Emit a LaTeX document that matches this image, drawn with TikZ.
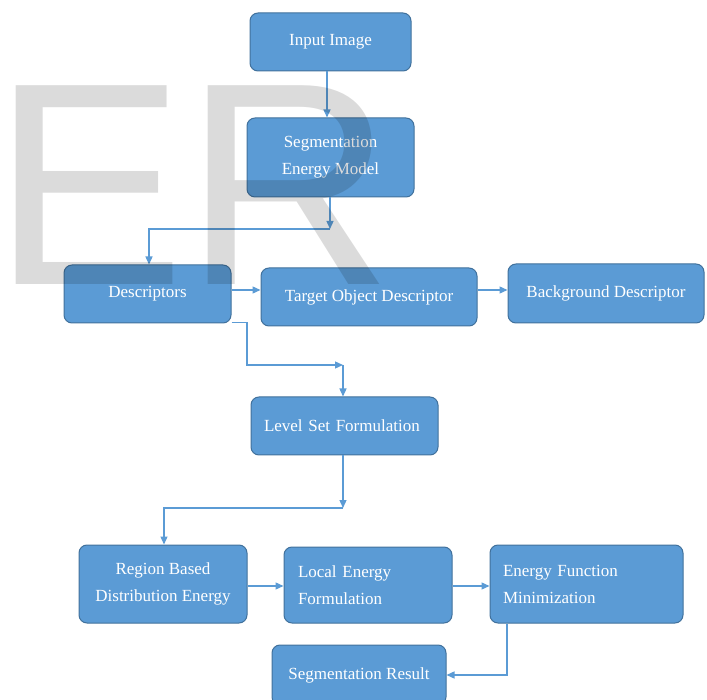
\documentclass[tikz,border=0pt]{standalone}
\usepackage{fontspec}
\setmainfont{Liberation Serif}
\newfontfamily\wmfont{Liberation Sans}
\usetikzlibrary{arrows.meta}
\definecolor{boxfill}{HTML}{5B9BD5}
\definecolor{boxline}{HTML}{41719C}
\definecolor{arrcol}{HTML}{5B9BD5}
\tikzset{
  blk/.style={draw=boxline, line width=1pt, fill=boxfill, rounded corners=8pt,
    text=white, font=\fontsize{17}{27}\selectfont, align=center, inner sep=0pt},
  blkl/.style={blk, align=left, inner xsep=13pt},
  arr/.style={draw=arrcol, line width=1.3pt, -{Triangle[length=8pt,width=7pt]}},
  ln/.style={draw=arrcol, line width=1.3pt},
}
\begin{document}
\begin{tikzpicture}[x=1pt,y=-1pt]
\useasboundingbox (0,0) rectangle (707,700);
\clip (0,0) rectangle (707,700);
% boxes
\node[blk, minimum width=161pt, minimum height=58pt] (in) at (330.5,42) {Input Image};
\node[blk, minimum width=167pt, minimum height=79pt] (seg) at (330.5,157.5) {Segmentation\\Energy Model};
\node[blk, minimum width=167pt, minimum height=58pt] (desc) at (147.5,294) {Descriptors};
\node[blk, minimum width=216pt, minimum height=58pt] (tod) at (369,297) {Target Object Descriptor};
\node[blk, minimum width=196pt, minimum height=59pt] (bg) at (606,293.5) {Background Descriptor};
\node[blkl, minimum width=187pt, minimum height=58pt, text width=161pt] (lsf) at (344.5,426) {Level Set Formulation};
\node[blk, minimum width=168pt, minimum height=78pt] (reg) at (163,584) {Region Based\\Distribution Energy};
\node[blkl, minimum width=168pt, minimum height=76pt, text width=140pt] (lef) at (368,585) {Local Energy\\Formulation};
\node[blkl, minimum width=193pt, minimum height=78pt, text width=167pt] (efm) at (586.5,584) {Energy Function\\Minimization};
\node[blk, minimum width=174pt, minimum height=60pt] (sr) at (359,675) {Segmentation Result};
% junctions
\coordinate (j1) at (330,229);
\coordinate (j1b) at (149,229);
\coordinate (j2) at (247,365);
\coordinate (j3) at (343,365);
\coordinate (j4) at (343,508);
\coordinate (j5) at (164,508);
\coordinate (j6) at (507,675);
% connectors
\draw[arr] ([xshift=-3.5pt]in.south) -- ([xshift=-3.5pt]in.south |- seg.north);
\draw[arr] (seg.south -| j1) -- (j1);
\draw[arr] (j1) -- (j1b) -- (j1b |- desc.north);
\draw[arr] ([yshift=4pt]desc.east) -- ([yshift=4pt]desc.east -| tod.west);
\draw[arr] ([yshift=7pt]tod.east) -- ([yshift=7pt]tod.east -| bg.west);
\draw[arr] ([yshift=1pt]desc.south east) -| (j2) -- (j3);
\draw[arr] (j3) -- (j3 |- lsf.north);
\draw[arr] (lsf.south -| j4) -- (j4);
\draw[arr] (j4) -- (j5) -- (j5 |- reg.north);
\draw[arr] ([yshift=-2pt]reg.east) -- ([yshift=-2pt]reg.east -| lef.west);
\draw[arr] ([yshift=-1pt]lef.east) -- ([yshift=-1pt]lef.east -| efm.west);
\draw[arr] (efm.south -| j6) -- (j6) -- (j6 -| sr.east);
% watermark
\node[anchor=base west, inner sep=0pt, text=black, text opacity=0.14, font=\wmfont\fontsize{289}{289}\selectfont] (wm) at (-8,285) {ER};
\end{tikzpicture}
\end{document}
